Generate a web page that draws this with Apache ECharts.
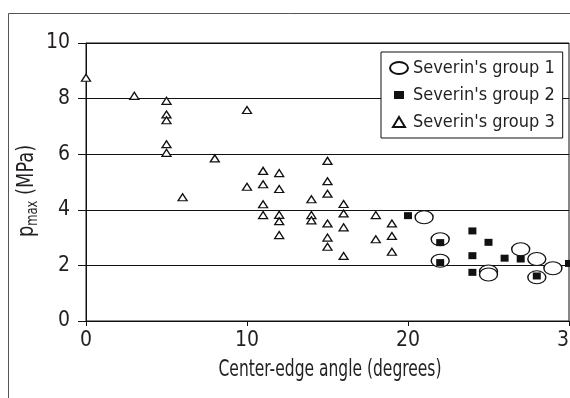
<!DOCTYPE html>
<html>
<head>
<meta charset="utf-8">
<script src="https://cdn.jsdelivr.net/npm/echarts@6/dist/echarts.min.js"></script>
<style>html,body{margin:0;padding:0;background:#fff}#c{width:570px;height:398px}</style>
</head>
<body>
<div id="c"></div>
<script>
// Severin's group 1 (open circles)
const group1 = [[21,3.73],[22,2.94],[22,2.17],[25,1.78],[25,1.67],[27,2.58],[28,2.23],[28,1.57],[29,1.9]];
// Severin's group 2 (filled squares)
const group2 = [[20,3.79],[22,2.82],[22,2.1],[24,3.24],[24,2.35],[24,1.75],[25,2.83],[26,2.26],[27,2.23],[28,1.62],[30,2.07]];
// Severin's group 3 (open triangles)
const group3 = [[0,8.75],[3,8.1],[5,7.92],[5,7.43],[5,7.22],[5,6.36],[5,6.05],[6,4.45],[8,5.85],[10,7.59],[10,4.83],
  [11,5.4],[11,4.92],[11,4.2],[11,3.81],[12,5.32],[12,4.75],[12,3.82],[12,3.59],[12,3.09],
  [14,4.38],[14,3.81],[14,3.62],[15,5.76],[15,5.03],[15,4.58],[15,3.51],[15,3.0],[15,2.67],
  [16,4.21],[16,3.87],[16,3.37],[16,2.34],[18,3.81],[18,2.94],[19,3.51],[19,3.06],[19,2.49]];
const seriesNames = ["Severin's group 1","Severin's group 2","Severin's group 3"];
const xTicks = [0,10,20,30];
const yTicks = [0,2,4,6,8,10];
const xTitle = 'Center-edge angle (degrees)';
const yTitle = ['p','max',' (MPa)'];

const FONT = "'DejaVu Sans Condensed','Liberation Sans Narrow',sans-serif";
const TXT = '#231f20';
const ellipse = 'path://M0,6A9,6,0,1,1,18,6A9,6,0,1,1,0,6Z';
const tri = 'path://M5,0L10,8L0,8Z';

const chart = echarts.init(document.getElementById('c'), null, {renderer:'canvas'});
chart.setOption({
  animation:false,
  backgroundColor:'#fff',
  textStyle:{fontFamily:FONT,color:TXT},
  graphic:[
    {type:'rect',silent:true,z:0,shape:{x:8.5,y:13.5,width:700,height:500},style:{fill:'none',stroke:'#555',lineWidth:1}},
    {type:'text',silent:true,z:10,x:330,y:370,scaleX:0.75,
      style:{text:xTitle,fontFamily:FONT,fontSize:23,fill:TXT,align:'center',verticalAlign:'middle'}},
    {type:'text',silent:true,z:10,x:27,y:191,rotation:Math.PI/2,scaleX:0.86,
      style:{text:'{a|'+yTitle[0]+'}{b|'+yTitle[1]+'}{a|'+yTitle[2]+'}',align:'center',verticalAlign:'middle',
        rich:{a:{fontFamily:FONT,fontSize:23,lineHeight:28,fill:TXT},
              b:{fontFamily:FONT,fontSize:15,fill:TXT,verticalAlign:'bottom'}}}}
  ],
  grid:{left:86,right:1,top:43,bottom:77,outerBoundsMode:'none',containLabel:false,show:true,borderColor:'#111',borderWidth:1,backgroundColor:'transparent'},
  legend:{
    orient:'vertical',left:381,top:52,
    padding:[6,8,6,8],itemGap:7,itemWidth:18,itemHeight:12,
    borderColor:'#111',borderWidth:1,borderRadius:0,backgroundColor:'#fff',
    textStyle:{fontFamily:FONT,fontSize:18,lineHeight:20,color:TXT},
    data:[
      {name:seriesNames[0],icon:'path://M0,6A9,6,0,1,1,18,6A9,6,0,1,1,0,6Z'},
      {name:seriesNames[1],icon:'path://M0,0M18,12M4,2L14,2L14,10L4,10Z'},
      {name:seriesNames[2],icon:'path://M0,0M18,12M9,1L15,11L3,11Z'}
    ]
  },
  xAxis:{
    type:'value',min:xTicks[0],max:xTicks[xTicks.length-1],interval:10,
    axisLine:{lineStyle:{color:'#111',width:1}},
    axisTick:{show:true,length:5,lineStyle:{color:'#111'}},
    axisLabel:{fontFamily:FONT,fontSize:21,color:TXT,margin:9},
    splitLine:{show:false}
  },
  yAxis:{
    type:'value',min:yTicks[0],max:yTicks[yTicks.length-1],interval:2,
    axisLine:{show:true,lineStyle:{color:'#111',width:1}},
    axisTick:{show:true,length:8,lineStyle:{color:'#111'}},
    axisLabel:{fontFamily:FONT,fontSize:21,color:TXT,margin:16},
    splitLine:{show:true,lineStyle:{color:'#111',width:1}}
  },
  series:[
    {name:seriesNames[0],type:'scatter',data:group1,symbol:ellipse,symbolSize:[18,13],symbolKeepAspect:false,
      itemStyle:{color:'#fff',borderColor:'#111',borderWidth:1.2,opacity:1},z:2},
    {name:seriesNames[1],type:'scatter',data:group2,symbol:'rect',symbolSize:[8,7],
      itemStyle:{color:'#111',opacity:1},z:3},
    {name:seriesNames[2],type:'scatter',data:group3,symbol:tri,symbolSize:[9,7],symbolKeepAspect:false,
      itemStyle:{color:'#fff',borderColor:'#111',borderWidth:1.3,opacity:1},z:4}
  ]
});
</script>
</body>
</html>
